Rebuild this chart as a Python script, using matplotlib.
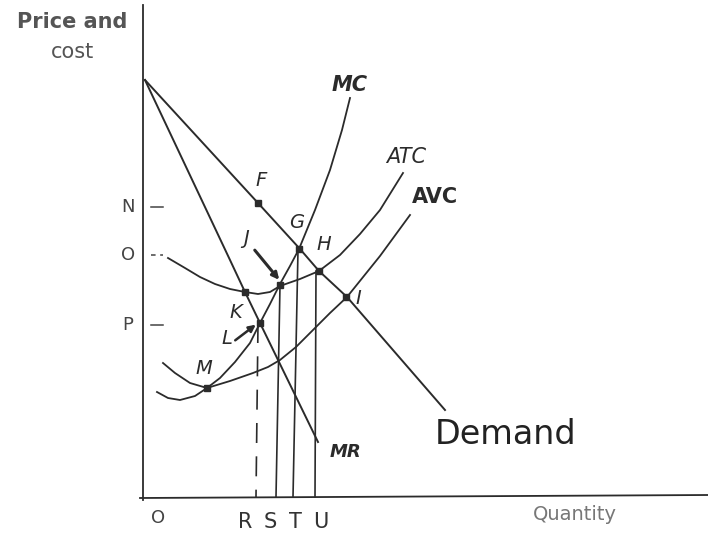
import numpy as np
import matplotlib.pyplot as plt

# -- hand-drawn diagram (pixel units, y grows downward) --
demand_q = [145, 258, 300, 319, 347, 445]
demand_p = [80, 203, 249, 271, 297, 410]

mr_q = [145, 230, 245, 260, 318]
mr_p = [80, 260, 292, 323, 442]

mc_q = [163, 175, 190, 207, 220, 235, 250, 260, 270, 280, 290, 299, 315, 330, 342, 350]
mc_p = [363, 373, 383, 388, 378, 362, 343, 323, 304, 284, 266, 249, 210, 170, 130, 98]

atc_q = [168, 185, 200, 215, 230, 245, 258, 270, 280, 300, 319, 340, 360, 380, 403]
atc_p = [258, 268, 277, 284, 289, 292, 294, 292, 286, 279, 271, 255, 234, 210, 173]

avc_q = [157, 168, 180, 195, 207, 230, 253, 268, 280, 296, 313, 330, 347, 380, 410]
avc_p = [392, 398, 400, 396, 388, 381, 373, 367, 360, 347, 330, 313, 297, 256, 215]

pts = {"F": (258, 203), "G": (299, 249), "H": (319, 271), "I": (346, 297),
       "J": (280, 285), "K": (245, 292), "L": (260, 323), "M": (207, 388)}
pt_labels = {"F": (261, 180), "G": (297, 222), "H": (324, 245), "I": (358, 298),
             "J": (246, 238), "K": (236, 312), "L": (227, 338), "M": (204, 368)}

# vertical drop lines: (top x, top y, bottom x, dashed)
drops = [(258, 323, 256, True), (280, 285, 276, False),
         (298, 250, 293, False), (316, 271, 315, False)]
q_ticks = ["R", "S", "T", "U"]
q_tick_x = [245, 270, 295, 321]

p_ticks = ["N", "O", "P"]
p_tick_y = [207, 255, 325]

ink = "#2b2b2b"

fig = plt.figure(figsize=(7.08, 5.38), dpi=100)
ax = fig.add_axes([0, 0, 1, 1])
ax.set_xlim(0, 708)
ax.set_ylim(538, 0)
ax.axis("off")

# axes of the sketch
ax.plot([143, 143], [5, 500], color=ink, lw=1.3)
ax.plot([140, 708], [498, 495], color=ink, lw=1.3)

# curves
ax.plot(demand_q, demand_p, color=ink, lw=1.4)
ax.plot(mr_q, mr_p, color=ink, lw=1.4)
ax.plot(mc_q, mc_p, color=ink, lw=1.3)
ax.plot(atc_q, atc_p, color=ink, lw=1.3)
ax.plot(avc_q, avc_p, color=ink, lw=1.3)

for xt, yt, xb, dashed in drops:
    ax.plot([xt, xb], [yt, 497], color=ink, lw=1.2,
            linestyle=(0, (12, 8)) if dashed else "-")

for k, (x, y) in pts.items():
    ax.plot(x, y, "s", color=ink, ms=4)
    lx, ly = pt_labels[k]
    ax.text(lx, ly, k, fontsize=14, color=ink, ha="center", va="center",
            fontstyle="italic")

# arrows to J and L
ax.annotate("", xy=(281, 282), xytext=(253, 248),
            arrowprops=dict(arrowstyle="-|>", color=ink, lw=2.2))
ax.annotate("", xy=(258, 323), xytext=(233, 342),
            arrowprops=dict(arrowstyle="-|>", color=ink, lw=1.8))

# price ticks
for lab, y in zip(p_ticks, p_tick_y):
    ax.text(128, y, lab, fontsize=13, color="#444444", ha="center", va="center")
    ax.plot([151, 163], [y, y], color="#444444", lw=1.1,
            linestyle=(0, (3, 3)) if lab == "O" else "-")

# quantity ticks
for lab, x in zip(q_ticks, q_tick_x):
    ax.text(x, 522, lab, fontsize=15, color="#333333", ha="center", va="center")

ax.text(158, 518, "O", fontsize=13, color="#444444", ha="center", va="center")

# curve labels
ax.text(350, 85, "MC", fontsize=15, color=ink, ha="center", va="center",
        fontstyle="italic", fontweight="bold")
ax.text(406, 157, "ATC", fontsize=15, color=ink, ha="center", va="center",
        fontstyle="italic")
ax.text(435, 197, "AVC", fontsize=15, color=ink, ha="center", va="center",
        fontweight="bold")
ax.text(345, 452, "MR", fontsize=13, color=ink, ha="center", va="center",
        fontstyle="italic", fontweight="bold")
ax.text(506, 435, "Demand", fontsize=24, color="#222222", ha="center",
        va="center")

ax.text(72, 22, "Price and", fontsize=15, color="#555555", ha="center",
        va="center", fontweight="bold")
ax.text(72, 52, "cost", fontsize=15, color="#555555", ha="center", va="center")
ax.text(575, 515, "Quantity", fontsize=14, color="#777777", ha="center",
        va="center")

plt.savefig("out.png", dpi=100)
